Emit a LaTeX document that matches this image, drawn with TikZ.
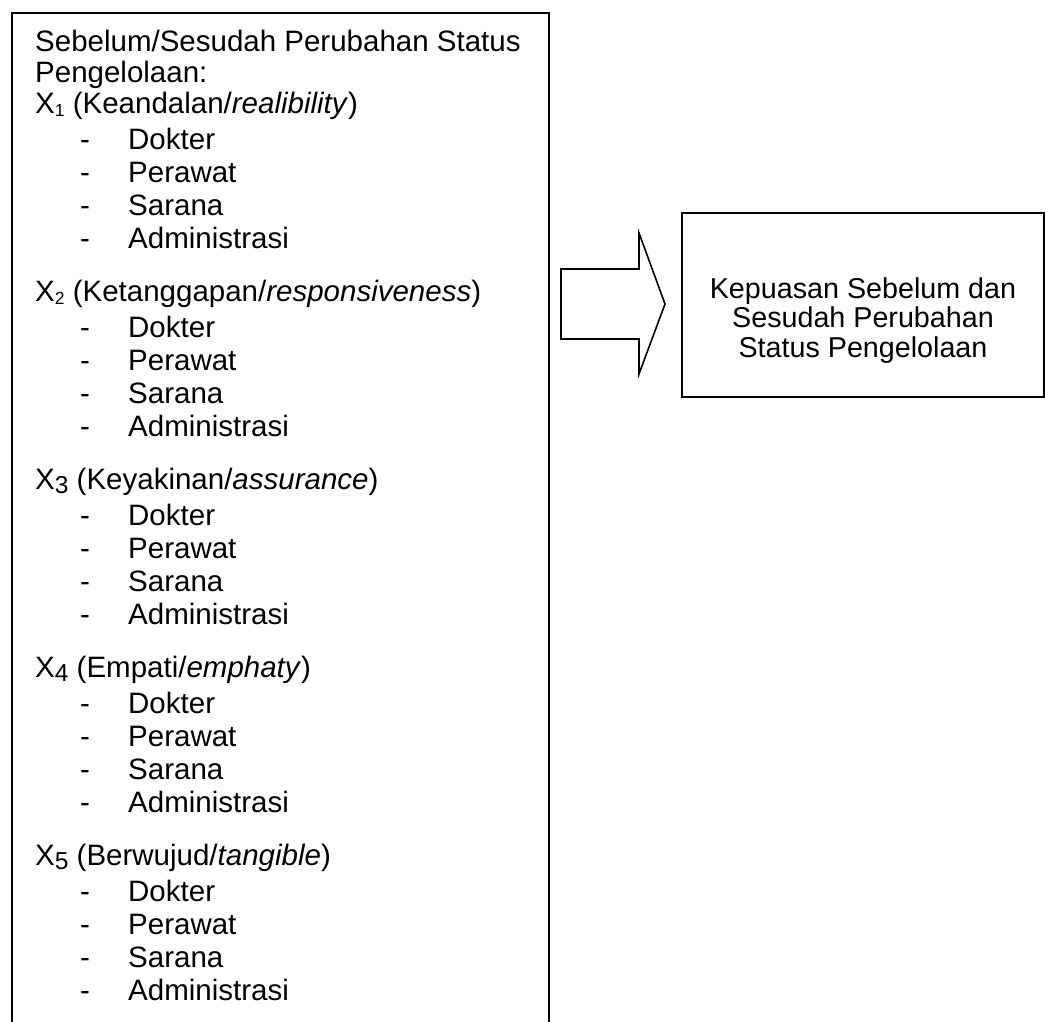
\documentclass[tikz,border=0pt]{standalone}
\usepackage{fontspec}
\setmainfont{Liberation Sans}
\usepackage{tikz}
\usetikzlibrary{positioning}

\newcommand{\subkecil}[1]{\raisebox{-3.5pt}{\fontsize{17.5}{17.5}\selectfont #1}}
\newcommand{\subbesar}[1]{\raisebox{-4pt}{\fontsize{24.5}{24.5}\selectfont #1}}

\begin{document}
\begin{tikzpicture}[x=1pt, y=-1pt]
    \tikzstyle{kotak} = [rectangle, draw=black, line width=1.6pt, inner sep=0pt]
    \tikzstyle{teks} = [inner sep=0pt, font=\fontsize{29.5}{33.3}\selectfont]
    \tikzstyle{butir} = [teks, anchor=base west]
    \tikzstyle{panah} = [draw=black, line width=1.6pt, line join=miter]

    \clip (0,0) rectangle (1045,1021);

    % kotak kiri (lebih panjang dari halaman)
    \node (dimensi)[kotak, anchor=north west, minimum width=537pt, minimum height=1100pt] at (11,12) {};
    \node (judul1)[butir] at (35,51) {Sebelum/Sesudah Perubahan Status};
    \node (judul2)[butir] at (35,82) {Pengelolaan:};

    \foreach \kepala [count=\k] in {
        {X\subkecil{1} (Keandalan/\textit{realibility})},
        {X\subkecil{2} (Ketanggapan/\textit{responsiveness})},
        {X\subbesar{3} (Keyakinan/\textit{assurance})},
        {X\subbesar{4} (Empati/\textit{emphaty})},
        {X\subbesar{5} (Berwujud/\textit{tangible})}} {
        \pgfmathsetmacro{\yk}{113+188*(\k-1)}
        \node (x\k)[butir] at (35,\yk) {\kepala};
        \foreach \isi [count=\j] in {Dokter, Perawat, Sarana, Administrasi} {
            \node (x\k-\j)[butir] at (80,{\yk+36+33.3*(\j-1)}) {\makebox[48pt][l]{-}\isi};
        }
    }

    % kotak kanan
    \node (kepuasan)[kotak, minimum width=362pt, minimum height=184pt] at (863,305) {};
    \node (teksKepuasan)[teks, align=center, anchor=north, font=\fontsize{28.7}{29.5}\selectfont] at (kepuasan.center |- 0,277) {Kepuasan Sebelum dan\\Sesudah Perubahan\\Status Pengelolaan};

    % panah blok
    \draw [panah] (561,269) -- (639,269) -- (639,233) -- (665,304) -- (639,374) -- (639,339) -- (561,339) -- cycle;
\end{tikzpicture}
\end{document}
